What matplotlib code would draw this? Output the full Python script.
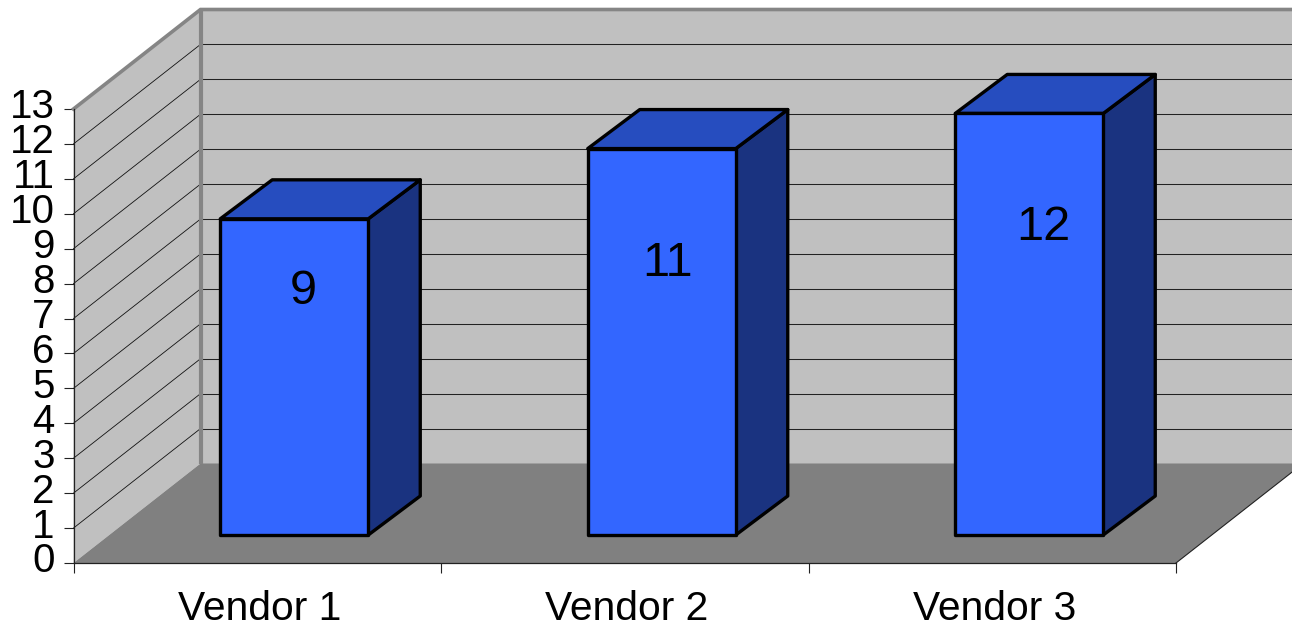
import matplotlib
matplotlib.use('Agg')
import matplotlib.pyplot as plt
from matplotlib.patches import Polygon
from matplotlib.transforms import ScaledTranslation

vendors = ['Vendor 1', 'Vendor 2', 'Vendor 3']
values = [9, 11, 12]
y_ticks = list(range(14))

W, H = 1292, 626
LEFT, RIGHT, BOTTOM, TOP = 73.5, 1176, 563, 109

plt.rcParams['font.family'] = ['Liberation Sans', 'DejaVu Sans']

fig = plt.figure(figsize=(W / 100, H / 100), dpi=100)
ax = fig.add_axes([LEFT / W, 1 - BOTTOM / H, (RIGHT - LEFT) / W, (BOTTOM - TOP) / H])
ax.set_xlim(0, len(vendors))
ax.set_ylim(0, y_ticks[-1])

# pixel distances converted to axis units
ux = (RIGHT - LEFT) / len(vendors)
uy = (BOTTOM - TOP) / y_ticks[-1]
depth_x = 127 / ux
depth_y = 99.5 / uy
far_x = len(vendors) + depth_x

def poly(points, face, edge='none', lw=0, z=1):
    ax.add_patch(Polygon(points, closed=True, facecolor=face, edgecolor=edge,
                         linewidth=lw, joinstyle='round', clip_on=False, zorder=z))

top = y_ticks[-1]

# walls and floor
poly([(0, 0), (depth_x, depth_y), (depth_x, top + depth_y), (0, top)], '#C0C0C0')
poly([(depth_x, depth_y), (far_x, depth_y), (far_x, top + depth_y), (depth_x, top + depth_y)], '#C0C0C0')
poly([(0, 0), (len(vendors), 0), (far_x, depth_y), (depth_x, depth_y)], '#808080')

# gridlines run along the side wall, then across the back wall
for v in y_ticks[1:-1]:
    ax.plot([0, depth_x], [v, v + depth_y], color='#111111', lw=0.6, clip_on=False, zorder=2)
    ax.plot([depth_x, far_x], [v + depth_y, v + depth_y], color='#222222', lw=0.75, clip_on=False, zorder=2)

# wall borders
ax.plot([0, depth_x, far_x], [top, top + depth_y, top + depth_y], color='#858585', lw=2.6,
        clip_on=False, zorder=3, solid_joinstyle='miter')
ax.plot([depth_x, depth_x], [depth_y, top + depth_y], color='#858585', lw=3,
        clip_on=False, zorder=3, solid_capstyle='butt')
ax.plot([len(vendors), far_x], [0, depth_y], color='#222222', lw=0.8, clip_on=False, zorder=3)

# 3d bars, drawn slightly closer to the viewer than the axis plane scale
bar_w = 148 / ux
shift_x = 37 / ux
shift_y = 28 / uy
bar_scale = 35.13 / uy
bar_dx = 52 / ux
bar_dy = 39 / uy
label_dx = [9 / ux, 6 / ux, 14 / ux]
label_drop = [73 / uy, 115 / uy, 114 / uy]

for i, val in enumerate(values):
    x0 = i + 0.5 - bar_w / 2 + shift_x
    x1 = x0 + bar_w
    y0 = shift_y
    y1 = shift_y + val * bar_scale
    edge = dict(edge='black', lw=2.4, z=5)
    poly([(x1, y0), (x1 + bar_dx, y0 + bar_dy), (x1 + bar_dx, y1 + bar_dy), (x1, y1)], '#1A3380', **edge)
    poly([(x0, y1), (x1, y1), (x1 + bar_dx, y1 + bar_dy), (x0 + bar_dx, y1 + bar_dy)], '#264DBF', **edge)
    poly([(x0, y0), (x1, y0), (x1, y1), (x0, y1)], '#3366FF', **edge)
    ax.text((x0 + x1) / 2 + label_dx[i], y1 - label_drop[i], str(val), fontsize=35,
            ha='center', va='center', color='black', zorder=6)

# axes
ax.patch.set_visible(False)
for side in ('top', 'right'):
    ax.spines[side].set_visible(False)
for side in ('left', 'bottom'):
    ax.spines[side].set_color('#222222')
    ax.spines[side].set_linewidth(0.9)
    ax.spines[side].set_zorder(4)

ax.set_yticks(y_ticks)
ax.set_yticklabels([str(t) for t in y_ticks], fontsize=29)
ax.tick_params(axis='y', length=7.2, width=0.8, color='#222222', pad=6.5)
lift = ScaledTranslation(0, 4 / 72, fig.dpi_scale_trans)
for label in ax.get_yticklabels():
    label.set_transform(label.get_transform() + lift)

ax.set_xticks(range(len(vendors) + 1))
ax.set_xticklabels([])
ax.tick_params(axis='x', which='major', length=7.2, width=0.8, color='#222222')
ax.set_xticks([i + 0.5 for i in range(len(vendors))], vendors, minor=True)
ax.tick_params(axis='x', which='minor', length=0, labelsize=29.3, pad=19.5)
nudge = ScaledTranslation(1.5 / 72, 0, fig.dpi_scale_trans)
for label in ax.get_xticklabels(minor=True):
    label.set_transform(label.get_transform() + nudge)

fig.savefig('out.png', dpi=100)
